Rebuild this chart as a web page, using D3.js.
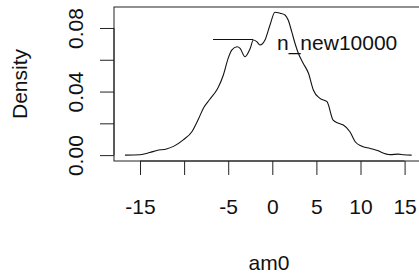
<!DOCTYPE html>
<html>
<head>
<meta charset="utf-8">
<script src="https://cdn.jsdelivr.net/npm/d3@7"></script>
<style>
body { margin: 0; background: #fff; overflow: hidden; }
text { font-family: "Liberation Sans", Arial, sans-serif; fill: #111; }
</style>
</head>
<body>
<div id="plot"></div>
<script>
// density estimate
const xs = [-16.7, -15.0, -13.9, -13.1, -12.0, -11.2, -10.1, -9.1, -8.4, -7.8, -7.1, -6.3, -6.1, -5.55, -5.0, -4.6, -4.0, -3.65, -3.1, -2.5, -2.15, -1.77, -1.4, -0.83, -0.26, 0.3, 0.87, 1.44, 1.8, 2.2, 2.57, 2.95, 3.5, 4.1, 4.65, 5.4, 6.2, 6.9, 7.5, 8.05, 8.8, 9.4, 10.1, 11.1, 12.0, 12.4, 13.35, 14.3, 14.9, 15.8];
const dens = [0, 0.0002, 0.0016, 0.0029, 0.0039, 0.0055, 0.0096, 0.0149, 0.0224, 0.0297, 0.035, 0.041, 0.043, 0.0504, 0.061, 0.0661, 0.0682, 0.0672, 0.0619, 0.0672, 0.0724, 0.0714, 0.0693, 0.0724, 0.0819, 0.0899, 0.0893, 0.0882, 0.085, 0.0777, 0.0704, 0.0641, 0.0578, 0.0515, 0.041, 0.0357, 0.0336, 0.022, 0.02, 0.0189, 0.0147, 0.0084, 0.0057, 0.0042, 0.0027, 0.0017, 0.0003, 0.0006, 0.0002, 0];
const xTicks = [-15, -10, -5, 0, 5, 10, 15];
const xTickLabels = ["-15", "", "-5", "0", "5", "10", "15"];
const yTicks = [0, 0.02, 0.04, 0.06, 0.08];
const yTickLabels = ["0.00", "", "0.04", "", "0.08"];
const legendNames = ["n_new10000"];

const W = 419, H = 279;
const box = {left: 114, top: 7, right: 424, bottom: 161};

const svg = d3.select("#plot")
.append("svg")
.attr("width", W)
.attr("height", H);

const x = d3.scaleLinear()
.domain([-17.95, 17.2])
.range([box.left, box.right]);

const y = d3.scaleLinear()
.domain([-0.0037, 0.0932])
.range([box.bottom, box.top]);

const data = xs.map((v, i) => ({x: v, d: dens[i]}));

// plot frame
svg.append("rect")
.attr("x", box.left)
.attr("y", box.top)
.attr("width", box.right - box.left)
.attr("height", box.bottom - box.top)
.attr("fill", "none")
.attr("stroke", "#222")
.attr("stroke-width", 1);

// x axis
const gx = svg.append("g")
.attr("transform", `translate(0, ${box.bottom})`)
.call(d3.axisBottom(x).tickValues(xTicks).tickSize(14).tickSizeOuter(0)
	.tickFormat((d, i) => xTickLabels[i]));
gx.select(".domain").attr("d", `M${x(-15)},0H${x(15)}`).attr("stroke", "#222");
gx.selectAll(".tick line").attr("stroke", "#222");
gx.selectAll("text")
.style("font-size", "21px")
.attr("fill", "#111")
.attr("y", 53)
.attr("dy", null);

// y axis
const gy = svg.append("g")
.attr("transform", `translate(${box.left}, 0)`)
.call(d3.axisLeft(y).tickValues(yTicks).tickSize(14).tickSizeOuter(0)
	.tickFormat((d, i) => yTickLabels[i]));
gy.select(".domain").attr("d", `M0,${y(0)}V${y(0.08)}`).attr("stroke", "#222");
gy.selectAll(".tick line").attr("stroke", "#222");
gy.selectAll("text")
.style("font-size", "21px")
.attr("fill", "#111")
.attr("x", null)
.attr("dy", null)
.attr("text-anchor", "middle")
.attr("transform", "translate(-31,0) rotate(-90)");

// density line
svg.append("path")
.datum(data)
.attr("fill", "none")
.attr("stroke", "#111")
.attr("stroke-width", 1.1)
.attr("d", d3.line().curve(d3.curveMonotoneX).x(d => x(d.x)).y(d => y(d.d)));

// legend
svg.append("line")
.attr("x1", 213)
.attr("x2", 253)
.attr("y1", 39.5)
.attr("y2", 39.5)
.attr("stroke", "#111")
.attr("stroke-width", 1.1);

svg.selectAll(".legend")
.data(legendNames)
.join("text")
.attr("class", "legend")
.attr("x", 277)
.attr("y", 50)
.style("font-size", "21px")
.text(d => d);

// axis titles
svg.append("text")
.attr("x", (box.left + box.right) / 2)
.attr("y", 270)
.attr("text-anchor", "middle")
.style("font-size", "21px")
.text("am0");

svg.append("text")
.attr("transform", `translate(27, ${(box.top + box.bottom) / 2}) rotate(-90)`)
.attr("text-anchor", "middle")
.style("font-size", "21px")
.text("Density");
</script>
</body>
</html>
